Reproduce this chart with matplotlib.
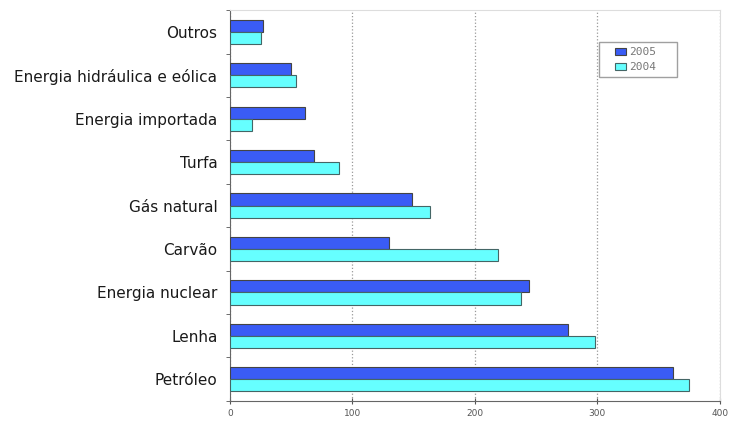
import matplotlib.pyplot as plt
from matplotlib.patches import Rectangle
from matplotlib.legend_handler import HandlerPatch
import numpy as np

categorias = ["Petróleo", "Lenha", "Energia nuclear", "Carvão", "Gás natural",
              "Turfa", "Energia importada", "Energia hidráulica e eólica", "Outros"]
v2005 = [362, 276, 244, 130, 149, 69, 61, 50, 27]
v2004 = [375, 298, 238, 219, 163, 89, 18, 54, 25]
xticks = [0, 100, 200, 300, 400]

fig = plt.figure(figsize=(7.3, 4.22), dpi=100)
ax = fig.add_axes([0.315, 0.05, 0.671, 0.926])

y = np.arange(len(categorias))
h = 0.28
b1 = ax.barh(y + h / 2, v2005, height=h, color="#3a5cf5", edgecolor="#444444",
             linewidth=0.8, zorder=3)
b2 = ax.barh(y - h / 2, v2004, height=h, color="#66ffff", edgecolor="#446666",
             linewidth=0.8, zorder=3)

ax.set_xlim(0, 400)
ax.set_ylim(-0.5, len(categorias) - 0.5)
ax.set_xticks(xticks)
ax.set_xticklabels([str(t) for t in xticks], fontsize=6.5, color="#555555")
ax.tick_params(axis="x", length=4, direction="inout", color="#555555")

ax.set_yticks(y)
ax.set_yticklabels(categorias, fontsize=11, color="#1a1a1a")
ax.tick_params(axis="y", length=0, pad=9)
ax.set_yticks(np.arange(-0.5, len(categorias)), minor=True)
ax.tick_params(axis="y", which="minor", length=3, color="#555555")

ax.grid(axis="x", linestyle=":", color="#999999", linewidth=0.9, zorder=0)

for s in ["top", "right"]:
    ax.spines[s].set_color("#dddddd")
for s in ["left", "bottom"]:
    ax.spines[s].set_color("#666666")


# quadradinho da legenda encostado à direita da área do handle
def marcador(legend, orig_handle, xdescent, ydescent, width, height, fontsize):
    w = 8
    return Rectangle((width - w - xdescent, -ydescent), w, height)


leg = ax.legend([b1.patches[0], b2.patches[0]], ["2005", "2004"],
                loc="upper left", bbox_to_anchor=(0.753, 0.834, 0.159, 0.084),
                mode="expand", prop={"family": "DejaVu Sans Mono", "size": 8},
                frameon=True, fancybox=False, edgecolor="#888888",
                handler_map={Rectangle: HandlerPatch(patch_func=marcador)},
                handlelength=2.0, handleheight=0.55, handletextpad=0.3,
                borderpad=0.45, borderaxespad=0, labelspacing=0.45)
leg.get_frame().set_boxstyle("square", pad=0.0)
leg.get_frame().set_linewidth(1.0)
for t in leg.get_texts():
    t.set_color("#777777")

fig.savefig("out.png", dpi=100)
